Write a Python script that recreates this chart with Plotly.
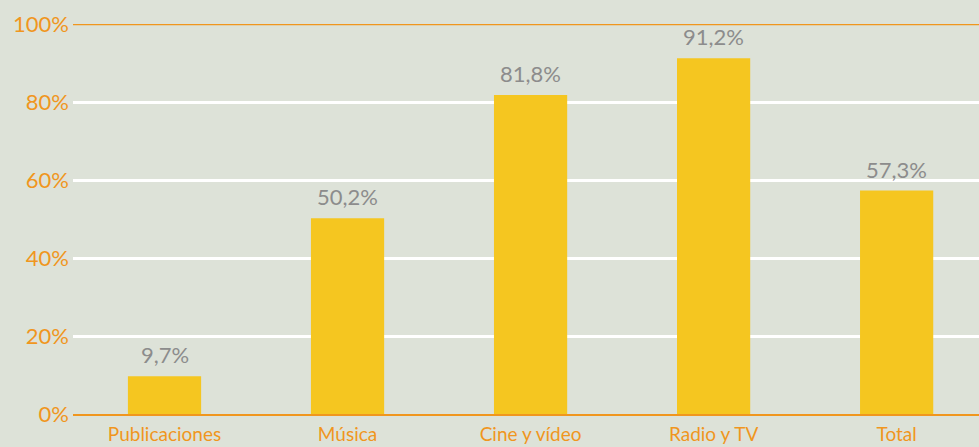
import plotly.graph_objects as go

categories = ["Publicaciones", "Música", "Cine y vídeo", "Radio y TV", "Total"]
values = [9.7, 50.2, 81.8, 91.2, 57.3]
value_labels = ["9,7%", "50,2%", "81,8%", "91,2%", "57,3%"]
y_ticks = [0, 20, 40, 60, 80, 100]
y_tick_labels = ["0%", "20%", "40%", "60%", "80%", "100%"]

BG = "#dde2d8"
BAR = "#f5c620"
ORANGE = "#f0961e"
GREY = "#8c8c8c"
FONT = "Lato, 'Open Sans', sans-serif"

fig = go.Figure(go.Bar(
    x=categories, y=values,
    marker=dict(color=BAR, line=dict(width=0)),
    hoverinfo="skip",
))

annotations = [
    dict(x=c, y=v, text=t, xref="x", yref="y", showarrow=False,
         yanchor="bottom", yshift=6,
         font=dict(color=GREY, size=22, family=FONT))
    for c, v, t in zip(categories, values, value_labels)
]

fig.update_layout(
    width=979, height=447,
    margin=dict(l=73, r=0, t=24, b=33),
    paper_bgcolor=BG, plot_bgcolor=BG,
    bargap=0.6, showlegend=False,
    font=dict(family=FONT),
    annotations=annotations,
    xaxis=dict(range=[-0.5, 4.45], showgrid=False, showline=True,
               linecolor=ORANGE, linewidth=2, ticks="", ticklabelstandoff=2,
               tickfont=dict(color=ORANGE, size=19, family=FONT)),
    yaxis=dict(range=[0, 100], tickvals=y_ticks, ticktext=y_tick_labels,
               gridcolor="white", gridwidth=2.5, zeroline=False,
               showline=False, ticks="", ticklabelstandoff=3,
               tickfont=dict(color=ORANGE, size=22, family=FONT)),
    shapes=[dict(type="line", xref="paper", yref="y", x0=0, x1=1,
                 y0=100, y1=100, line=dict(color=ORANGE, width=2.5))],
)

fig.write_html("out.html", config={"displayModeBar": False},
               post_script="document.body.style.margin='0';document.body.style.overflow='hidden';")
